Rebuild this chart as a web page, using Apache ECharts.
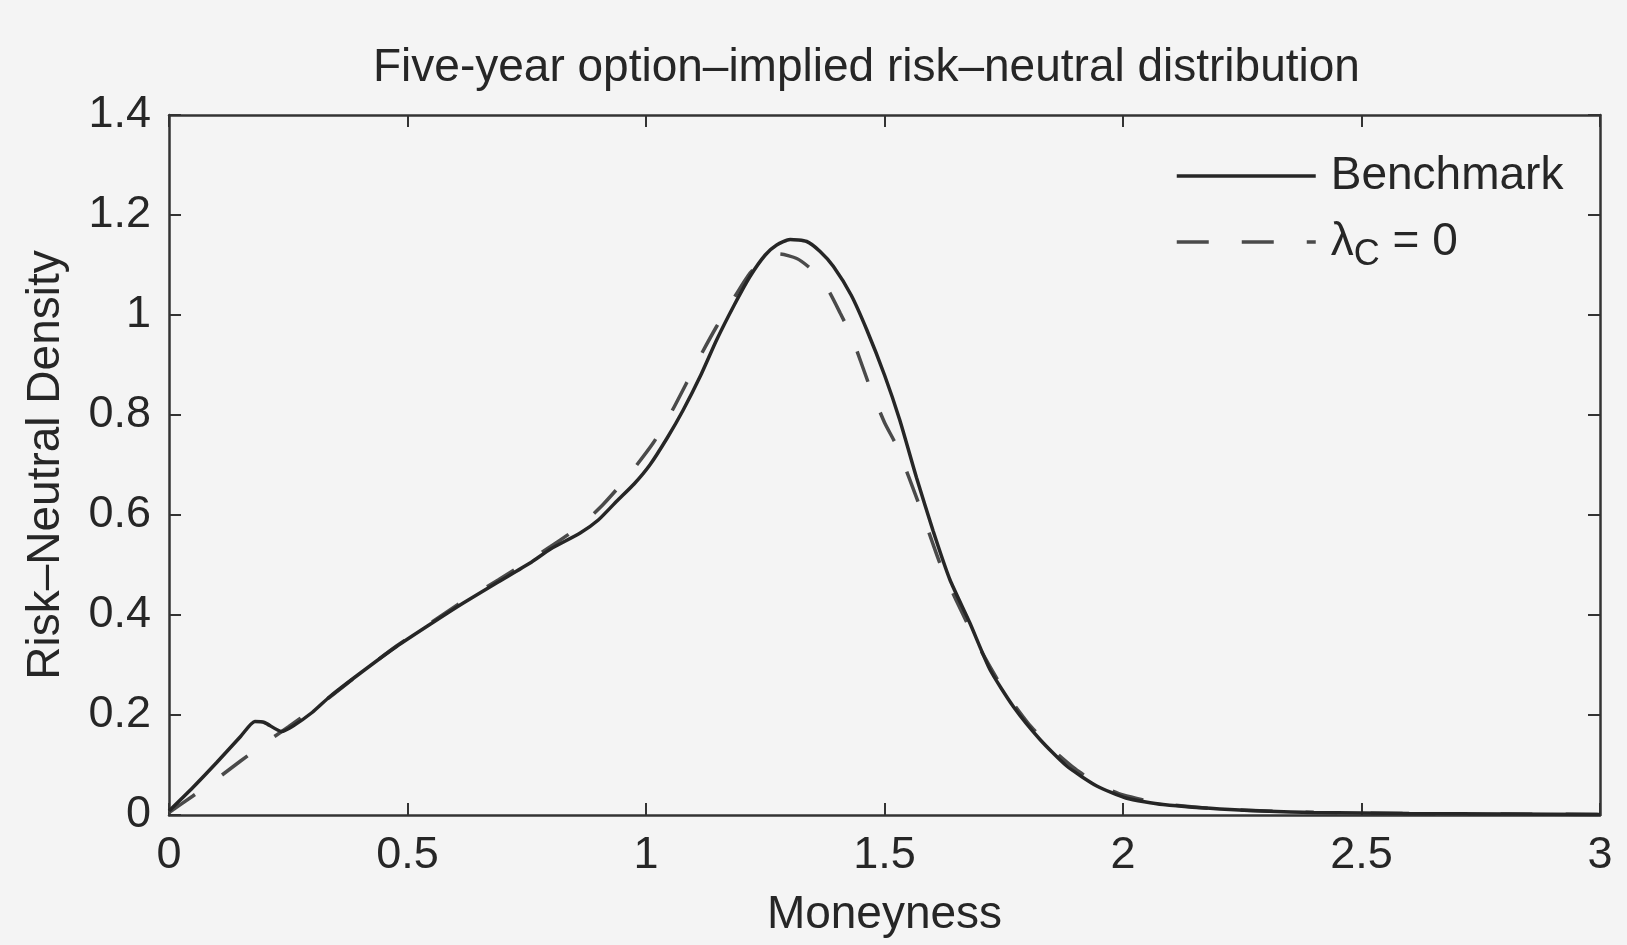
<!DOCTYPE html>
<html>
<head>
<meta charset="utf-8">
<script src="https://cdn.jsdelivr.net/npm/echarts@6/dist/echarts.min.js"></script>
<style>
html,body{margin:0;padding:0;background:#f4f4f4;}
#chart{width:1627px;height:945px;}
</style>
</head>
<body>
<div id="chart"></div>
<script>
// ---- data ----
const titleText = 'Five-year option\u2013implied risk\u2013neutral distribution';
const xName = 'Moneyness';
const yName = 'Risk\u2013Neutral Density';
const xTicks = [0, 0.5, 1, 1.5, 2, 2.5, 3];
const yTicks = [0, 0.2, 0.4, 0.6, 0.8, 1, 1.2, 1.4];

const benchMoney = [0, 0.05, 0.10, 0.15, 0.18, 0.20, 0.236, 0.26, 0.30, 0.3375, 0.40, 0.477, 0.55, 0.617, 0.69, 0.757, 0.80, 0.862, 0.90, 0.939, 0.975, 1.008, 1.045, 1.078, 1.115, 1.148, 1.185, 1.218, 1.25, 1.274, 1.302, 1.337, 1.365, 1.393, 1.43, 1.463, 1.50, 1.532, 1.567, 1.602, 1.637, 1.679, 1.721, 1.77, 1.826, 1.882, 1.945, 2.006, 2.084, 2.224, 2.4, 2.6, 2.8, 3.0];
const benchDensity = [0.008, 0.055, 0.105, 0.157, 0.187, 0.185, 0.167, 0.178, 0.205, 0.237, 0.283, 0.337, 0.383, 0.424, 0.466, 0.504, 0.532, 0.564, 0.590, 0.628, 0.662, 0.700, 0.755, 0.810, 0.880, 0.950, 1.020, 1.077, 1.120, 1.140, 1.151, 1.147, 1.127, 1.097, 1.040, 0.970, 0.880, 0.790, 0.675, 0.568, 0.471, 0.384, 0.291, 0.217, 0.151, 0.098, 0.058, 0.034, 0.021, 0.011, 0.005, 0.003, 0.002, 0.001];

const noCrashMoney = [0, 0.05, 0.10, 0.15, 0.20, 0.25, 0.30, 0.34, 0.40, 0.477, 0.55, 0.617, 0.69, 0.757, 0.80, 0.862, 0.91, 0.96, 1.015, 1.05, 1.085, 1.115, 1.148, 1.185, 1.218, 1.25, 1.28, 1.316, 1.34, 1.365, 1.385, 1.407, 1.431, 1.469, 1.50, 1.526, 1.574, 1.616, 1.65, 1.70, 1.75, 1.80, 1.85, 1.90, 1.95, 2.0, 2.08, 2.2, 2.4, 2.6, 2.8, 3.0];
const noCrashDensity = [0.005, 0.038, 0.072, 0.108, 0.143, 0.176, 0.21, 0.238, 0.283, 0.338, 0.385, 0.428, 0.470, 0.510, 0.537, 0.578, 0.621, 0.675, 0.744, 0.800, 0.864, 0.920, 0.977, 1.035, 1.084, 1.112, 1.122, 1.113, 1.097, 1.074, 1.045, 1.004, 0.957, 0.857, 0.785, 0.737, 0.617, 0.504, 0.430, 0.333, 0.250, 0.185, 0.133, 0.092, 0.060, 0.040, 0.023, 0.012, 0.005, 0.003, 0.002, 0.001];

const seriesNames = ['Benchmark', 'lambdaC0'];

// ---- chart ----
const zip = (xs, ys) => xs.map((x, i) => [x, ys[i]]);
const FONT = '"Liberation Sans", Arial, Helvetica, sans-serif';
const INK = '#262626';
const axisLineStyle = { color: '#333', width: 2.5 };

const chart = echarts.init(document.getElementById('chart'), null, { renderer: 'canvas' });

const xBase = {
  type: 'value', min: xTicks[0], max: xTicks[xTicks.length - 1], interval: xTicks[1] - xTicks[0],
  splitLine: { show: false },
  axisLine: { show: true, onZero: false, lineStyle: axisLineStyle },
  axisTick: { show: true, inside: true, length: 12, lineStyle: { color: '#333', width: 2 } }
};
const yBase = {
  type: 'value', min: yTicks[0], max: yTicks[yTicks.length - 1], interval: yTicks[1] - yTicks[0],
  splitLine: { show: false },
  axisLine: { show: true, onZero: false, lineStyle: axisLineStyle },
  axisTick: { show: true, inside: true, length: 12, lineStyle: { color: '#333', width: 2 } }
};

chart.setOption({
  backgroundColor: '#f4f4f4',
  animation: false,
  textStyle: { fontFamily: FONT, color: INK },
  title: {
    text: titleText, left: 368, top: 40,
    textStyle: { fontFamily: FONT, fontSize: 46, fontWeight: 'normal', color: INK }
  },
  grid: { left: 169, right: 27, top: 115, bottom: 130, containLabel: false },
  legend: {
    orient: 'vertical', left: 1170, top: 148, align: 'left',
    itemWidth: 139, itemHeight: 2, itemGap: 20,
    data: seriesNames,
    itemStyle: { opacity: 0 },
    lineStyle: { width: 3.5 },
    formatter: function (name) {
      return name === 'Benchmark' ? '{a|Benchmark}' : '{a|\u03bb}{sub|C}{a| = 0}';
    },
    textStyle: {
      fontFamily: FONT, fontSize: 46, color: INK, padding: [0, 0, 0, 10],
      rich: {
        a: { fontFamily: FONT, fontSize: 46, color: INK },
        sub: { fontFamily: FONT, fontSize: 36, color: INK, padding: [26, 0, 0, 0] }
      }
    }
  },
  xAxis: [
    Object.assign({}, xBase, {
      position: 'bottom', name: xName, nameLocation: 'middle', nameGap: 77,
      nameTextStyle: { fontFamily: FONT, fontSize: 46, color: INK },
      axisLabel: { show: true, margin: 18, fontFamily: FONT, fontSize: 45, color: INK }
    }),
    Object.assign({}, xBase, { position: 'top', axisLabel: { show: false } })
  ],
  yAxis: [
    Object.assign({}, yBase, {
      position: 'left', name: yName, nameLocation: 'middle', nameGap: 100, nameRotate: 90,
      nameTextStyle: { fontFamily: FONT, fontSize: 46, color: INK },
      axisLabel: { show: true, margin: 18, fontFamily: FONT, fontSize: 45, color: INK }
    }),
    Object.assign({}, yBase, { position: 'right', axisLabel: { show: false } })
  ],
  series: [
    {
      name: seriesNames[0], type: 'line', xAxisIndex: 0, yAxisIndex: 0,
      data: zip(benchMoney, benchDensity),
      symbol: 'none', showSymbol: false, smooth: 0.2,
      lineStyle: { color: '#262626', width: 3.5, type: 'solid' },
      itemStyle: { color: '#262626' },
      z: 3
    },
    {
      name: seriesNames[1], type: 'line', xAxisIndex: 0, yAxisIndex: 0,
      data: zip(noCrashMoney, noCrashDensity),
      symbol: 'none', showSymbol: false, smooth: 0.2,
      lineStyle: { color: '#4a4a4a', width: 3.5, type: [32, 33] },
      itemStyle: { color: '#4a4a4a' },
      z: 2
    }
  ]
});
</script>
</body>
</html>
